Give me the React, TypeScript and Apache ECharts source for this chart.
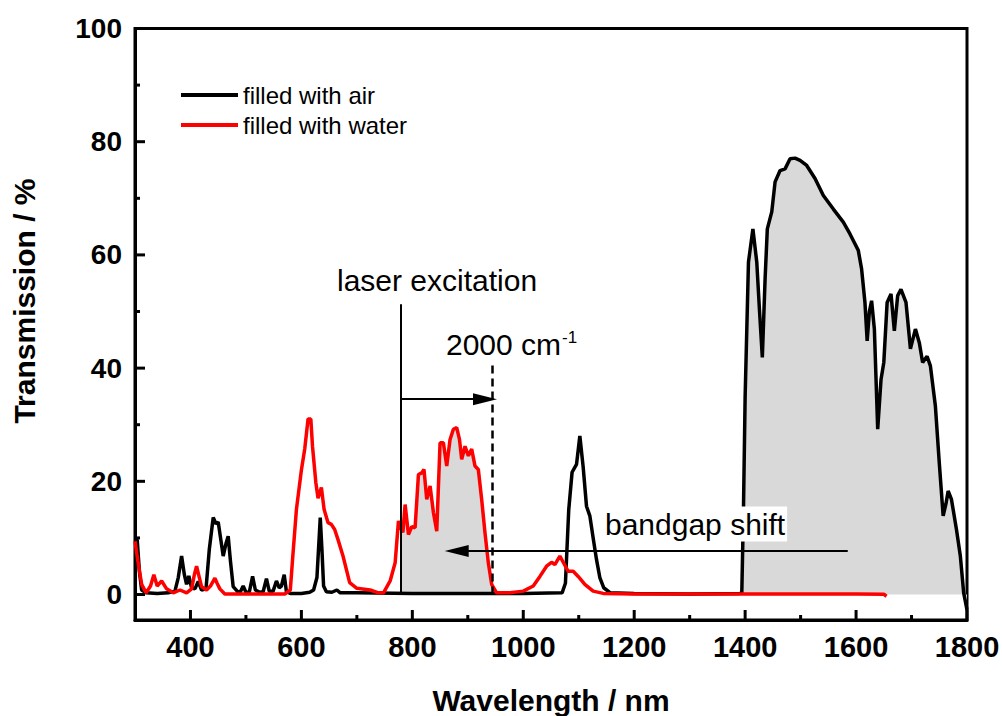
import React, { useEffect, useRef } from 'react';
import * as echarts from 'echarts';

// ---------- data ----------
const airWavelength = [
  300, 304, 308, 312, 320, 340, 360, 372, 378, 384, 389, 393, 397, 402, 408, 414, 420, 428, 434, 441,
  446, 450, 455, 459, 464, 468, 472, 477, 485, 490, 495, 500, 506, 512, 517, 525, 531, 537, 542, 549,
  555, 560, 564, 569, 573, 580, 600, 615, 622, 628, 632, 634, 637, 640, 645, 655, 664, 670, 700, 800,
  900, 1000, 1070, 1076, 1082, 1088, 1096, 1102, 1108, 1114, 1120, 1126, 1132, 1138, 1145, 1157, 1200, 1300, 1390,
  1394, 1397, 1400, 1406, 1414, 1421, 1426, 1431, 1436, 1440, 1448, 1454, 1463, 1472, 1481, 1490, 1499, 1511,
  1526, 1541, 1559, 1577, 1589, 1604, 1610, 1616, 1620, 1624, 1628, 1633, 1639, 1645, 1650, 1656, 1663, 1669,
  1675, 1681, 1690, 1698, 1707, 1714, 1720, 1728, 1734, 1743, 1750, 1757, 1762, 1766, 1772, 1781, 1788, 1794, 1800
];
const airTransmission = [
  10, 9.6, 4, 0.8, 0.3, 0.2, 0.3, 0.6, 3, 6.8, 3.5, 1.8, 3.3, 1.2, 1, 2.3, 0.8, 1, 8, 13.6,
  12.5, 12.8, 9.5, 6.8, 9, 10.3, 6, 1.4, 0.5, 0.5, 1.5, 0.4, 0.4, 3.2, 0.8, 0.4, 0.5, 2.8, 0.6, 0.6,
  2.4, 1.2, 1.5, 3.5, 0.5, 0.2, 0.2, 0.4, 0.8, 3, 10, 13.6, 8, 1.5, 0.5, 0.4, 0.8, 0.3, 0.3, 0.2,
  0.2, 0.2, 0.3, 2, 15, 21.6, 23, 28, 22.5, 15.6, 13.9, 10, 6.2, 3, 1.2, 0.3, 0.2, 0.1, 0.2,
  0.3, 15, 35, 58.7, 64.6, 58.7, 50, 41.9, 55.8, 64.6, 67.6, 72.9, 74.9, 75.2, 77, 77.1, 76.7, 75.8,
  73.5, 70.5, 68.1, 65.8, 63.7, 60.8, 57.5, 51.6, 44.8, 50, 51.9, 46.9, 29.2, 38, 41, 51.6, 53.1, 46.6,
  52.8, 53.9, 51.6, 43.4, 46.9, 44.5, 41, 42.1, 40.4, 33.3, 23.3, 13.9, 16, 18.3, 16.8, 11.5, 6.8, 0.3, -2.7
];

const waterWavelength = [
  300, 305, 312, 320, 328, 334, 340, 348, 357, 369, 381, 393, 402, 407, 411, 416, 420, 429, 436, 444,
  448, 453, 462, 500, 570, 580, 585, 591, 600, 606, 612, 617, 620, 626, 630, 636, 641, 648, 654, 660,
  666, 675, 687, 700, 724, 739, 748, 760, 769, 775, 780, 783, 787, 793, 799, 805, 811, 817, 821, 826,
  832, 838, 844, 850, 856, 862, 868, 874, 880, 885, 889, 895, 901, 907, 913, 919, 925, 931, 937, 943,
  952, 976, 1000, 1018, 1030, 1042, 1051, 1057, 1066, 1072, 1081, 1090, 1099, 1111, 1126, 1144, 1200, 1400,
  1600, 1650, 1655
];
const waterTransmission = [
  9.4, 6, 1.8, 0.3, 1.5, 3.5, 1.5, 2.4, 1, 0.3, 0.8, 0.3, 1, 3.5, 5, 3, 1.4, 0.8, 1.5, 2.9,
  2, 1, 0.1, 0.1, 0.1, 0.8, 7.4, 15, 22, 25.7, 31, 31, 26.2, 19.8, 17, 18.9, 15, 12.7, 12.4, 11.5,
  9.7, 6.8, 2.1, 1.1, 0.8, 0.3, 0.3, 2.4, 5.6, 13, 11.5, 11, 15.9, 10.6, 12, 11.8, 21.2, 21.5, 22.1, 16.8,
  19.2, 14.5, 11.2, 26.8, 26.8, 22.7, 27.4, 29.2, 29.5, 27.4, 23.9, 26.2, 24.5, 25.7, 22.7, 22.1, 16.8, 10.9, 5.6, 1.8,
  0.3, 0.3, 0.6, 1.5, 3.2, 5, 5.7, 5.3, 6.8, 5.7, 4.1, 4.1, 3.2, 1.8, 0.6, 0.2, 0.1, 0.1,
  0.1, 0.05, -0.3
];

const xRange = [300, 1800];
const yRange = [-4.5, 100];
const xMajorTicks = [400, 600, 800, 1000, 1200, 1400, 1600, 1800];
const xMinorTicks = [500, 700, 900, 1100, 1300, 1500, 1700];
const yMajorTicks = [0, 20, 40, 60, 80, 100];
const yMinorTicks = [10, 30, 50, 70, 90];

// shaded ranges (nm)
const waterFillRange = [780, 945];
const airFillRange = [1390, 1800];

// annotation values (nm, %)
const laserLine = [780, 0, 51.3];
const ramanLine = [944, 0, 41.3];
const ramanArrow = [780, 931, 34.5];
const bandgapArrow = [1585, 880, 7.7];

const FONT = 'Arial, "Liberation Sans", Helvetica, sans-serif';

// layout
const W = 1002;
const H = 716;
const GRID = { left: 135, right: 35, top: 28.5, bottom: 96 };
const MAJOR_LEN = 10;
const MINOR_LEN = 5;
const TICK_COLOR = '#000000';

const pairs = (xs: number[], ys: number[]) => xs.map((x, i) => [x, ys[i]]);

export default function App() {
  const ref = useRef<HTMLDivElement>(null);

  useEffect(() => {
    if (!ref.current) return;
    const chart = echarts.init(ref.current, undefined, { renderer: 'svg' });

    const air = pairs(airWavelength, airTransmission);
    const water = pairs(waterWavelength, waterTransmission);
    const waterFill = water.filter(p => p[0] >= waterFillRange[0] && p[0] <= waterFillRange[1]);
    const airFill = air.filter(p => p[0] >= airFillRange[0] && p[0] <= airFillRange[1]);

    const labelFmt = (v: number) => String(v);

    const texts: any[] = [
      {
        id: 'ytitle', type: 'text', x: 24, y: 301, rotation: Math.PI / 2,
        style: { text: 'Transmission / %', fontFamily: FONT, fontSize: 30, fontWeight: 'bold', fill: '#000', align: 'center', verticalAlign: 'middle' },
      },
      {
        id: 'laser', type: 'text', x: 337, y: 280,
        style: { text: 'laser excitation', fontFamily: FONT, fontSize: 30, fill: '#000', align: 'left', verticalAlign: 'middle' },
      },
      {
        id: 'raman', type: 'text', x: 446, y: 344,
        style: { text: '2000 cm', fontFamily: FONT, fontSize: 30, fill: '#000', align: 'left', verticalAlign: 'middle' },
      },
      {
        id: 'ramanSup', type: 'text', x: 562, y: 337,
        style: { text: '-1', fontFamily: FONT, fontSize: 17, fill: '#000', align: 'left', verticalAlign: 'middle' },
      },
      {
        id: 'bandgap', type: 'text', x: 604, y: 524, z: 100,
        style: {
          text: 'bandgap shift', fontFamily: FONT, fontSize: 30, fill: '#000', align: 'left', verticalAlign: 'middle',
          backgroundColor: '#ffffff', padding: [2, 2, 3, 1],
        },
      },
    ];

    chart.setOption({
      animation: false,
      backgroundColor: '#ffffff',
      grid: {
        ...GRID,
        outerBoundsMode: 'none',
        containLabel: false,
        show: true, borderColor: '#000', borderWidth: 3, backgroundColor: 'transparent',
      },
      legend: {
        data: ['filled with air', 'filled with water'],
        orient: 'vertical',
        left: 181, top: 82, padding: 0,
        icon: 'rect',
        itemWidth: 57, itemHeight: 4,
        itemGap: 4,
        textStyle: { fontFamily: FONT, fontSize: 24, color: '#000', lineHeight: 26 },
      },
      xAxis: {
        type: 'value',
        min: xRange[0], max: xRange[1],
        position: 'bottom',
        splitLine: { show: false },
        axisLine: { show: true, onZero: false, lineStyle: { color: '#000', width: 3 } },
        axisTick: { show: false },
        axisLabel: { customValues: xMajorTicks, formatter: labelFmt, margin: 12, fontFamily: FONT, fontSize: 29, fontWeight: 'bold', color: '#000' },
        name: 'Wavelength / nm',
        nameLocation: 'middle',
        nameGap: 65,
        nameTextStyle: { fontFamily: FONT, fontSize: 30, fontWeight: 'bold', color: '#000' },
      },
      yAxis: {
        type: 'value',
        min: yRange[0], max: yRange[1],
        position: 'left',
        splitLine: { show: false },
        axisLine: { show: true, onZero: false, lineStyle: { color: '#000', width: 3 } },
        axisTick: { show: false },
        axisLabel: { customValues: yMajorTicks, formatter: labelFmt, margin: 13, fontFamily: FONT, fontSize: 28, fontWeight: 'bold', color: '#000' },
      },
      graphic: texts,
      series: [
        {
          type: 'line', data: waterFill, showSymbol: false, silent: true,
          lineStyle: { width: 0 }, areaStyle: { color: '#d9d9d9', opacity: 1 }, z: 1,
        },
        {
          type: 'line', data: airFill, showSymbol: false, silent: true,
          lineStyle: { width: 0 }, areaStyle: { color: '#d9d9d9', opacity: 1 }, z: 1,
        },
        {
          name: 'filled with air', type: 'line', data: air, showSymbol: false,
          color: '#000000', lineStyle: { color: '#000000', width: 3.5 }, z: 3,
        },
        {
          name: 'filled with water', type: 'line', data: water, showSymbol: false,
          color: '#ff0000', lineStyle: { color: '#ff0000', width: 3.5 }, z: 4,
        },
        {
          type: 'line', data: [], z: 5,
          markLine: {
            silent: true, animation: false, symbol: 'none',
            label: { show: false },
            lineStyle: { color: '#000', width: 2, type: 'solid' },
            data: [
              [{ coord: [laserLine[0], laserLine[1]] }, { coord: [laserLine[0], laserLine[2]] }],
              [{ coord: [ramanLine[0], ramanLine[1]], lineStyle: { type: [8, 5], width: 2.5 } }, { coord: [ramanLine[0], ramanLine[2]] }],
              [
                { coord: [ramanArrow[0], ramanArrow[2]], symbol: 'none' },
                { coord: [ramanArrow[1], ramanArrow[2]], symbol: 'triangle', symbolSize: [12, 24] },
              ],
              [
                { coord: [bandgapArrow[0], bandgapArrow[2]], symbol: 'none' },
                { coord: [bandgapArrow[1], bandgapArrow[2]], symbol: 'triangle', symbolSize: [12, 24] },
              ],
            ],
          },
        },
      ],
    });

    // inward tick marks, placed through the chart's own scales
    const toPx = (v: number[]) => chart.convertToPixel({ gridIndex: 0 }, v) as number[];
    const ticks: any[] = [];
    const addX = (v: number, len: number, i: string) => {
      const p = toPx([v, yRange[0]]);
      ticks.push({ id: 'tx' + i + v, type: 'line', z: 200, silent: true, shape: { x1: p[0], y1: p[1], x2: p[0], y2: p[1] - len }, style: { stroke: TICK_COLOR, lineWidth: 3 } });
    };
    const addY = (v: number, len: number, i: string) => {
      const p = toPx([xRange[0], v]);
      ticks.push({ id: 'ty' + i + v, type: 'line', z: 200, silent: true, shape: { x1: p[0], y1: p[1], x2: p[0] + len, y2: p[1] }, style: { stroke: TICK_COLOR, lineWidth: 3 } });
    };
    xMajorTicks.forEach(v => addX(v, MAJOR_LEN, 'M'));
    xMinorTicks.forEach(v => addX(v, MINOR_LEN, 'm'));
    yMajorTicks.forEach(v => addY(v, MAJOR_LEN, 'M'));
    yMinorTicks.forEach(v => addY(v, MINOR_LEN, 'm'));
    chart.setOption({ graphic: [...texts, ...ticks] });

    return () => chart.dispose();
  }, []);

  return <div ref={ref} style={{ position: 'absolute', left: 0, top: 0, width: W, height: H }} />;
}
